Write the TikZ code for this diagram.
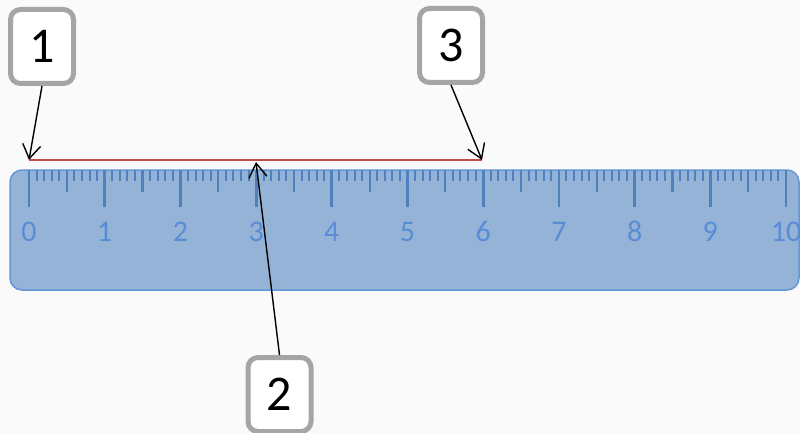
\documentclass[tikz,border=0pt]{standalone}
\usepackage{fontspec}
\setmainfont{Carlito}
\usetikzlibrary{arrows.meta}
\definecolor{bgc}{RGB}{250,250,250}
\definecolor{rulerfill}{RGB}{149,179,215}
\definecolor{rulerdraw}{RGB}{100,150,215}
\definecolor{tickc}{RGB}{79,129,189}
\definecolor{labc}{RGB}{88,141,214}
\definecolor{redl}{RGB}{192,80,77}
\definecolor{boxgray}{RGB}{165,165,165}
\tikzset{
  numbox/.style={draw=boxgray, line width=5pt, fill=white, rounded corners=10pt,
    minimum width=63pt, minimum height=74pt, inner sep=0pt, font=\fontsize{50}{50}\selectfont},
  pointer/.style={draw=black, line width=1.4pt, -{Straight Barb[length=14pt,width=18pt,line width=1.4pt]}},
  ticklab/.style={text=labc, font=\fontsize{30}{30}\selectfont, inner sep=0pt}
}
\begin{document}
\begin{tikzpicture}[x=1pt,y=-1pt]
\fill[bgc] (0,0) rectangle (800,433);
\useasboundingbox (0,0) rectangle (800,433);
% ruler
\draw[fill=rulerfill, draw=rulerdraw, line width=1.5pt, rounded corners=12pt] (10,170) rectangle (799,290);
\foreach \i in {0,...,100}{
  \pgfmathsetmacro{\xx}{29+\i*7.57}
  \pgfmathtruncatemacro{\m}{mod(\i,10)}
  \pgfmathtruncatemacro{\h}{mod(\i,5)}
  \ifnum\m=0
    \draw[tickc, line width=2.8pt] (\xx,170) -- (\xx,207);
  \else\ifnum\h=0
    \draw[tickc, line width=2.2pt] (\xx,170) -- (\xx,192);
  \else
    \draw[tickc, line width=2pt] (\xx,170) -- (\xx,181);
  \fi\fi
}
\foreach \k in {0,...,10}{
  \node[ticklab] (lab\k) at ({29+\k*75.7},231.5) {\k};
}
% red segment
\coordinate (r0) at (29,160);
\coordinate (r3) at (256,162);
\coordinate (r6) at (482,160);
\draw[redl, line width=1.8pt] (r0) -- (r6);
% boxes
\node[numbox] (b1) at (42,46.5) {\raisebox{-1pt}{1}};
\node[numbox] (b3) at (451,45.5) {\raisebox{-1pt}{3}};
\node[numbox] (b2) at (279.5,394.5) {\raisebox{-1pt}{2}};
% pointers
\draw[pointer] (b1.south) -- (r0);
\draw[pointer] (b3.south) -- (r6);
\draw[pointer] (b2.north) -- (r3);
\end{tikzpicture}
\end{document}
